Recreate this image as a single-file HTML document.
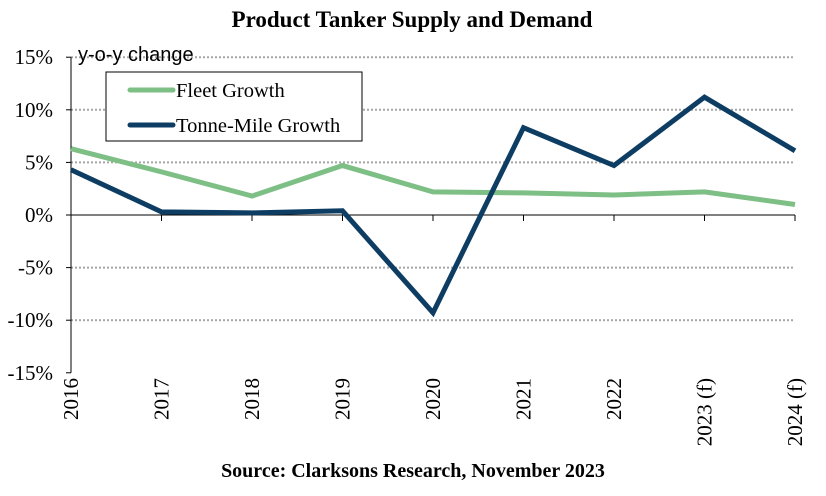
<!DOCTYPE html>
<html><head><meta charset="utf-8"><style>
body{margin:0;background:#fff;width:826px;height:496px;overflow:hidden}
svg{display:block}
</style></head><body>
<svg width="826" height="496" id="c">
<text x="412" y="27" text-anchor="middle" font-family="Liberation Serif, serif" font-weight="bold" font-size="23">Product Tanker Supply and Demand</text>
<text x="413" y="477" text-anchor="middle" font-family="Liberation Serif, serif" font-weight="bold" font-size="20">Source: Clarksons Research, November 2023</text>
<g id="grid"></g><g id="axes"></g><g id="series"></g>
<text x="78" y="61" font-family="Liberation Sans, sans-serif" font-size="20">y-o-y change</text>
<g>
<rect x="106" y="72" width="256" height="69" fill="#fff" stroke="#000" stroke-width="1"/>
<line x1="130" y1="90" x2="173" y2="90" stroke="#7dbf85" stroke-width="5" stroke-linecap="round"/>
<text x="176" y="97" font-family="Liberation Serif, serif" font-size="20.5">Fleet Growth</text>
<line x1="130" y1="125" x2="173" y2="125" stroke="#0e3d63" stroke-width="5" stroke-linecap="round"/>
<text x="176" y="132" font-family="Liberation Serif, serif" font-size="20.5">Tonne-Mile Growth</text>
</g>
</svg>
<script>
const categories=["2016","2017","2018","2019","2020","2021","2022","2023 (f)","2024 (f)"];
const fleetGrowth=[6.3,4.1,1.8,4.7,2.2,2.1,1.9,2.2,1.0];
const tonneMileGrowth=[4.3,0.3,0.2,0.4,-9.3,8.3,4.7,11.2,6.1];
const yTicks=[15,10,5,0,-5,-10,-15];
const NS="http://www.w3.org/2000/svg";
const X0=71,X1=795,Y0=215,PER=10.52;
const xs=i=>X0+(X1-X0)*i/(categories.length-1);
const ys=v=>Y0-v*PER;
function mk(t,a,p){const e=document.createElementNS(NS,t);for(const k in a)e.setAttribute(k,a[k]);p.appendChild(e);return e;}
const grid=document.getElementById('grid'),axes=document.getElementById('axes'),ser=document.getElementById('series');
yTicks.forEach(v=>{
 if(v!==0&&v!==-15){const g=mk('line',{x1:X0,x2:X1,y1:ys(v),y2:ys(v),stroke:'#a6a6a6','stroke-width':2,'stroke-dasharray':'2 2'},grid);
 
 }
 mk('line',{x1:X0-5,x2:X0,y1:ys(v),y2:ys(v),stroke:'#000'},axes);
 const t=mk('text',{x:X0-18,y:ys(v)+7,'text-anchor':'end','font-family':'Liberation Serif, serif','font-size':21},axes);
 t.textContent=v+'%';
 
 
});
mk('line',{x1:X0,x2:X0,y1:ys(15),y2:ys(-15),stroke:'#000'},axes);
mk('line',{x1:X0,x2:X1,y1:Y0,y2:Y0,stroke:'#000'},axes);
categories.forEach((c,i)=>{
 mk('line',{x1:xs(i),x2:xs(i),y1:Y0,y2:Y0+6,stroke:'#000'},axes);
 const t=mk('text',{transform:`translate(${xs(i)+7},378) rotate(-90)`,'text-anchor':'end','font-family':'Liberation Serif, serif','font-size':21},axes);
 t.textContent=c;
 
 
});
function line(d,col,name){
 const p=mk('polyline',{points:d.map((v,i)=>xs(i)+','+ys(v)).join(' '),fill:'none',stroke:col,'stroke-width':5,'stroke-linejoin':'miter'},ser);
 
 
}
line(fleetGrowth,'#7dbf85','fleet-growth-line');
line(tonneMileGrowth,'#0e3d63','tonne-mile-growth-line');
</script>
</body></html>
